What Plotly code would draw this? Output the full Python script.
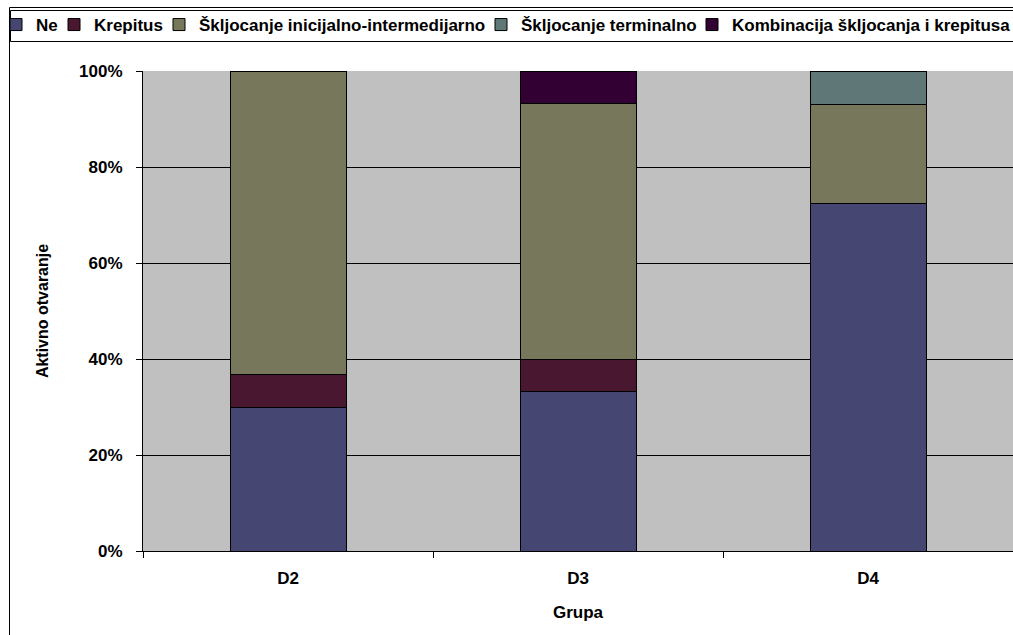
import plotly.graph_objects as go

categories = ["D2", "D3", "D4"]
series_names = ["Ne", "Krepitus", "Škljocanje inicijalno-intermedijarno",
                "Škljocanje terminalno", "Kombinacija škljocanja i krepitusa"]
ne = [30.0, 33.3, 72.4]
krepitus = [6.7, 6.7, 0.0]
ini_inter = [63.3, 53.3, 20.7]
terminal = [0.0, 0.0, 6.9]
kombinacija = [0.0, 6.7, 0.0]
y_ticks = [0, 20, 40, 60, 80, 100]
y_tick_labels = ["0%", "20%", "40%", "60%", "80%", "100%"]

colors = ["#464673", "#4A1731", "#77775B", "#5F7777", "#330033"]
values = [ne, krepitus, ini_inter, terminal, kombinacija]

W, H = 1013, 635
L, R, T, B = 143, 0, 71, 84
PW, PH = W - L - R, H - T - B


def px_x(px):
    return (px - L) / PW


def px_y(py):
    return (H - B - py) / PH


font = "Liberation Sans, Arial, sans-serif"
FS = 17
LFS = 17
legend_text_starts = [36, 94, 199, 521, 732]
legend_ids = ["legend", "legend2", "legend3", "legend4", "legend5"]

fig = go.Figure()
for name, vals, col, lid in zip(series_names, values, colors, legend_ids):
    fig.add_trace(go.Bar(
        x=categories, y=vals, name=name, legend=lid,
        marker=dict(color=col, line=dict(color="#000000", width=1)),
    ))

legend_layouts = {}
for lid, xs in zip(legend_ids, legend_text_starts):
    legend_layouts[lid] = dict(
        orientation="h",
        xref="paper", yref="paper",
        x=px_x(xs - 40), y=px_y(25),
        xanchor="left", yanchor="middle",
        borderwidth=0,
        bgcolor="rgba(0,0,0,0)",
        font=dict(family=font, size=LFS, color="black", weight="bold"),
        itemwidth=30,
    )

fig.update_layout(
    barmode="stack",
    bargap=0.6,
    width=W, height=H,
    margin=dict(l=L, r=R, t=T, b=B, autoexpand=False),
    paper_bgcolor="white",
    plot_bgcolor="#C0C0C0",
    font=dict(family=font, size=FS, color="black"),
    showlegend=True,
    **legend_layouts,
    xaxis=dict(
        automargin=False,
        showline=True, linecolor="black", linewidth=1,
        ticks="outside", ticklen=6, tickcolor="black",
        tickson="boundaries",
        tickfont=dict(family=font, size=FS, weight="bold"),
        ticklabelstandoff=12,
        title=dict(text="<b>Grupa</b>", font=dict(family=font, size=FS), standoff=18),
        showgrid=False,
    ),
    yaxis=dict(
        automargin=False,
        range=[0, 100],
        tickvals=y_ticks, ticktext=y_tick_labels,
        showline=True, linecolor="black", linewidth=1,
        ticks="outside", ticklen=6, tickcolor="black",
        showgrid=True, gridcolor="#000000", gridwidth=1,
        zeroline=False,
        tickfont=dict(family=font, size=FS, weight="bold"),
        ticklabelstandoff=10,
        title=dict(text="<b>Aktivno otvaranje</b>", font=dict(family=font, size=16), standoff=26),
    ),
    shapes=[
        dict(type="rect", xref="paper", yref="paper",
             x0=px_x(9.5), x1=px_x(W + 20), y0=px_y(H + 20), y1=px_y(7.5),
             line=dict(color="black", width=1), fillcolor="rgba(0,0,0,0)", layer="below"),
        dict(type="rect", xref="paper", yref="paper",
             x0=px_x(10.5), x1=px_x(W + 20), y0=px_y(41.5), y1=px_y(10.5),
             line=dict(color="black", width=1), fillcolor="rgba(0,0,0,0)", layer="below"),
    ],
)

fig.write_html(
    "out.html",
    config={"displayModeBar": False},
    post_script="document.body.style.margin='0';document.body.style.overflow='hidden';",
)
